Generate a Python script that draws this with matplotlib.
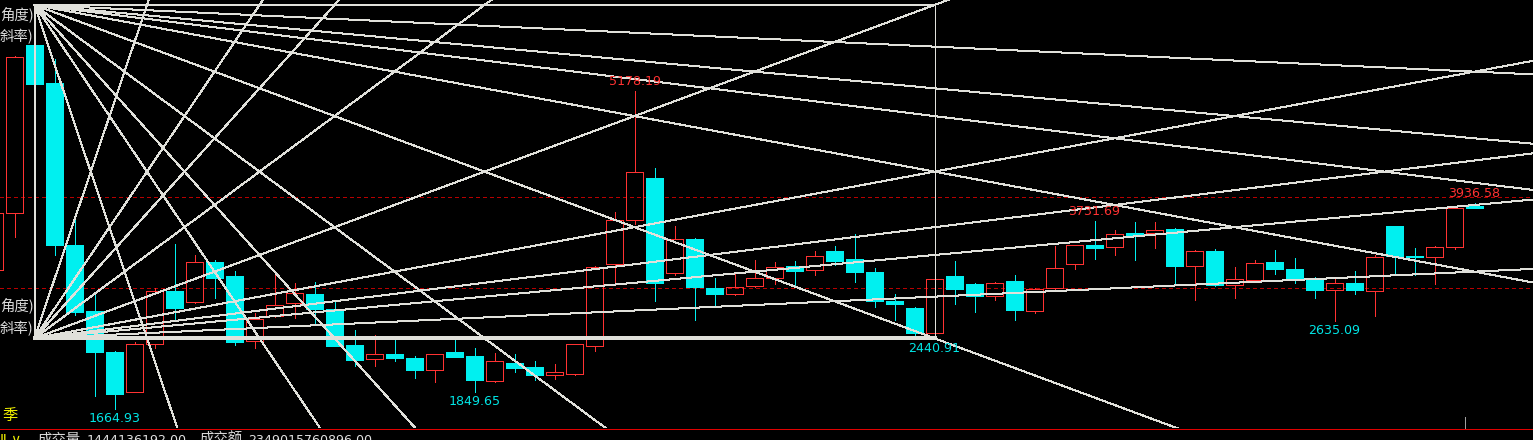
import numpy as np
import matplotlib
matplotlib.use("Agg")
import matplotlib.pyplot as plt
from matplotlib.patches import Rectangle
from matplotlib.lines import Line2D
from matplotlib import font_manager as fm

# ---------------- data (quarterly candles, index -1 .. 73) ----------------
quarters = list(range(-1, 74))
opens = [3196, 3821, 5684, 5265, 3474, 2741, 2290, 1849, 2377, 2963,
         2843, 3289, 3125, 2410, 2690, 2831, 2932, 2767, 2363, 2214,
         2263, 2226, 2089, 2289, 2240, 1974, 2169, 2124, 2040, 2047,
         2358, 3258, 3748, 4215, 3165, 3542, 3000, 2934, 3018, 3105,
         3245, 3193, 3410, 3322, 3179, 2850, 2772, 2501, 3124, 3036,
         2908, 3069, 2747, 3000, 3264, 3473, 3451, 3604, 3604, 3652,
         3237, 3410, 3029, 3087, 3283, 3212, 3110, 2974, 3055, 2963,
         3685, 3355, 3341, 3451, 3904]
highs = [4335, 5560, 6124.04, 5523, 3786, 2952, 2300, 2402, 3000, 3478,
         3366, 3306, 3181, 2717, 3186, 3050, 3067, 2842, 2536, 2478,
         2453, 2243, 2270, 2444, 2334, 2278, 2267, 2190, 2157, 2380,
         3239, 3835, 5178.19, 4319, 3686, 3545, 3102, 3146, 3311, 3286,
         3300, 3402, 3457, 3597, 3220, 2926, 2784, 3130, 3300, 3055,
         3058, 3135, 3000, 3465, 3474, 3731.69, 3633, 3726, 3721, 3655,
         3421, 3432, 3231, 3310, 3419, 3329, 3115, 3102, 3182, 3366,
         3687, 3440, 3465, 3904, 3936.58]
lows = [2986, 3563, 4779, 3357, 2693, 1802, 1664.93, 1844, 2337, 2639,
        2832, 2890, 2370, 2330, 2672, 2663, 2610, 2352, 2138, 2138,
        2193, 2001, 1956, 2234, 1849.65, 1956, 2071, 1985, 1992, 2040,
        2305, 3049, 3700, 2853, 3138, 2644, 2787, 2919, 3010, 3036,
        3011, 3138, 3248, 3062, 2787, 2640, 2449, 2440.91, 2817, 2732,
        2864, 2644, 2725, 2990, 3209, 3322, 3366, 3311, 3440, 3036,
        2864, 3020, 2890, 3063, 3149, 3055, 2882, 2635.09, 2926, 2688,
        3154, 3138, 3036, 3432, 3880]
closes = [3820, 5552, 5253, 3473, 2736, 2294, 1821, 2373, 2959, 2779,
          3282, 3109, 2398, 2656, 2810, 2937, 2762, 2359, 2199, 2265,
          2225, 2086, 2269, 2237, 1979, 2187, 2117, 2040, 2066, 2377,
          3234, 3748, 4277, 3055, 3538, 3007, 2926, 3011, 3110, 3231,
          3190, 3355, 3300, 3171, 2850, 2817, 2501, 3099, 2981, 2908,
          3055, 2754, 2985, 3220, 3473, 3435, 3597, 3567, 3637, 3245,
          3410, 3029, 3099, 3273, 3202, 3102, 2974, 3047, 2974, 3341,
          3355, 3336, 3451, 3879, 3886]

high_label_idx = [1, 31, 54, 73]
low_label_idx = [5, 23, 46, 66]
grid_levels = [3000, 4000]
box_start, box_end = 1, 46
gann_ratios = [1/8, 1/4, 1/3, 1/2, 1, 2, 3, 4, 8]
period_label = "季"
volume_label, volume_value = "成交量", "1444136192.00"
amount_label, amount_value = "成交额", "2349015760896.00"
fan_labels = ["角度)", "斜率)"]

# ---------------- styling ----------------
WPX, HPX, DPI = 1533, 440, 100
PX = 72.0 / DPI
RED = "#ff3232"
CYAN = "#00f0f0"
CYAN_TXT = "#00e6e6"
LINE = "#e0e0da"
GRID = "#b80000"
CJK = "Noto Sans CJK SC"


def has_font(name):
    try:
        fm.findfont(fm.FontProperties(family=name), fallback_to_default=False)
        return True
    except Exception:
        return False


if has_font("Liberation Sans Narrow"):
    NUMFONT, NUMSIZE = "Liberation Sans Narrow", 12.4
else:
    NUMFONT, NUMSIZE = "DejaVu Sans", 9.1


def fx(px):
    return px / WPX


def fy(py):
    return 1 - py / HPX


fig = plt.figure(figsize=(WPX / DPI, HPX / DPI), dpi=DPI, facecolor="black")
chart_bottom_px = 428
ax = fig.add_axes([0, 1 - chart_bottom_px / HPX, 1, chart_bottom_px / HPX])
ax.set_facecolor("black")
ax.set_xlim(-0.725, 75.925)
# 4000 at pixel 197.2, 0.0905 px per point
ppu = 0.0905
ax.set_ylim(4000 - (chart_bottom_px - 197.2) / ppu, 4000 + 197.2 / ppu)
ax.axis("off")

# dashed reference levels
for lv in grid_levels:
    ax.axhline(lv, color=GRID, lw=PX, ls=(0, (4, 3)), zorder=1,
               antialiased=False)

# candles
bw = 0.82
for x, o, h, l, c in zip(quarters, opens, highs, lows, closes):
    if c >= o:
        ax.add_patch(Rectangle((x - bw / 2, o), bw, c - o, fill=False,
                               edgecolor=RED, lw=PX, zorder=3,
                               antialiased=False))
        ax.plot([x, x], [c, h], color=RED, lw=PX, zorder=3,
                solid_capstyle="butt", antialiased=False)
        ax.plot([x, x], [l, o], color=RED, lw=PX, zorder=3,
                solid_capstyle="butt", antialiased=False)
    else:
        ax.plot([x, x], [l, h], color=CYAN, lw=PX, zorder=2.9,
                solid_capstyle="butt", antialiased=False)
        ax.add_patch(Rectangle((x - bw / 2, c), bw, o - c, facecolor=CYAN,
                               edgecolor=CYAN, lw=PX, zorder=3,
                               antialiased=False))

# Gann box + fans
i0 = quarters.index(box_start)
i1 = quarters.index(box_end)
top = highs[i0]
bot = lows[i1]
Wb = box_end - box_start
Hb = top - bot
ax.plot([box_start, box_start], [bot, top], color=LINE, lw=PX * 1.6, zorder=4,
        antialiased=False)
ax.plot([box_end, box_end], [bot, top], color=LINE, lw=PX, zorder=4,
        antialiased=False)
ax.plot([box_start, box_end], [top, top], color=LINE, lw=PX * 2.0, zorder=4,
        antialiased=False)
ax.plot([box_start, box_end], [bot, bot], color=LINE, lw=PX * 2.2, zorder=4,
        antialiased=False)

reach = 80
for k in gann_ratios:
    slope = k * Hb / Wb
    # from top-left corner downward
    ax.plot([box_start, box_start + reach], [top, top - slope * reach],
            color=LINE, lw=PX, zorder=4, antialiased=False)
    # from bottom-left corner upward
    ax.plot([box_start, box_start + reach], [bot, bot + slope * reach],
            color=LINE, lw=PX, zorder=4, antialiased=False)

# high / low labels
for i in high_label_idx:
    j = quarters.index(i)
    ax.annotate(f"{highs[j]:.2f}", xy=(i, highs[j]), xytext=(0, 9.5 * PX),
                textcoords="offset points", ha="center", va="center",
                color=RED, fontsize=NUMSIZE, family=NUMFONT, zorder=6,
                annotation_clip=False)
for i in low_label_idx:
    j = quarters.index(i)
    ax.annotate(f"{lows[j]:.2f}", xy=(i, lows[j]), xytext=(0, -10 * PX),
                textcoords="offset points", ha="center", va="center",
                color=CYAN_TXT, fontsize=NUMSIZE, family=NUMFONT, zorder=6,
                annotation_clip=False)

# fan labels at the left edge
for ypx, t in zip([14, 37], fan_labels):
    fig.text(fx(33.5), fy(ypx), t, ha="right", va="center", color="#dadada",
             fontsize=10.4, family=[CJK, "DejaVu Sans"])
for ypx, t in zip([305, 329], fan_labels):
    fig.text(fx(33.5), fy(ypx), t, ha="right", va="center", color="#dadada",
             fontsize=10.4, family=[CJK, "DejaVu Sans"])

# period label
fig.text(fx(2.5), fy(415.5), period_label, ha="left", va="center",
         color="#f0f000", fontsize=11.0, family=[CJK, "DejaVu Sans"])

# bottom info bar
fig.add_artist(Line2D([0, 1], [fy(428.5), fy(428.5)], transform=fig.transFigure,
                      color="#e00000", lw=PX, antialiased=False))
fig.add_artist(Line2D([fx(1464.5), fx(1464.5)], [fy(417), fy(428)],
                      transform=fig.transFigure, color="#a0a0a0", lw=PX,
                      antialiased=False))
base = fy(444)
fig.text(fx(0), base, "Ⅱ ∨", ha="left", va="baseline", color="#f0f000",
         fontsize=10, family=["DejaVu Sans", CJK])
fig.text(fx(38), base, volume_label, ha="left", va="baseline", color="#d8d8d8",
         fontsize=10.4, family=[CJK, "DejaVu Sans"])
fig.text(fx(87), base, volume_value, ha="left", va="baseline", color="#e0e0e0",
         fontsize=NUMSIZE, family=NUMFONT)
fig.text(fx(199), base, amount_label, ha="left", va="baseline", color="#d8d8d8",
         fontsize=10.4, family=[CJK, "DejaVu Sans"])
fig.text(fx(248), base, amount_value, ha="left", va="baseline", color="#e0e0e0",
         fontsize=NUMSIZE, family=NUMFONT)

fig.savefig("out.png", dpi=DPI, facecolor="black")
